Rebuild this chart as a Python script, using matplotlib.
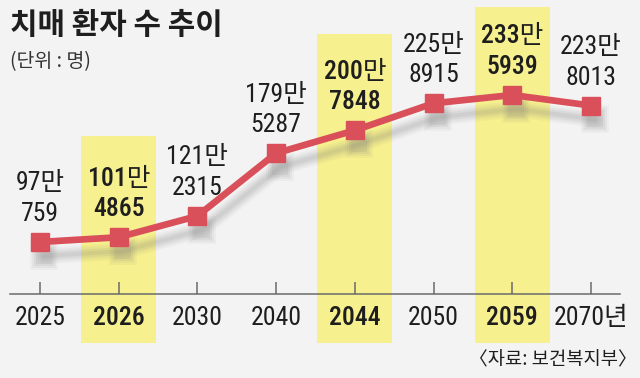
import numpy as np
import matplotlib
matplotlib.use("Agg")
import matplotlib.pyplot as plt
from matplotlib import transforms

# data
years = ["2025", "2026", "2030", "2040", "2044", "2050", "2059", "2070년"]
patients = [970759, 1014865, 1212315, 1795287, 2007848, 2258915, 2335939, 2238013]
labels = ["97만\n759", "101만\n4865", "121만\n2315", "179만\n5287",
          "200만\n7848", "225만\n8915", "233만\n5939", "223만\n8013"]
highlight = [1, 4, 6]
band_tops = {1: 136, 4: 34, 6: 7}   # pixel rows of the yellow band tops

fams = ["Roboto Condensed", "Noto Sans CJK KR", "DejaVu Sans"]
kr = ["Noto Sans CJK KR", "DejaVu Sans"]

W, H = 640, 378
bg = "#f3f3f3"
red = "#d94f5a"
yellow = "#f6f08e"
ink = "#1e1e1e"

fig = plt.figure(figsize=(W / 100, H / 100), dpi=100, facecolor=bg)
ax = fig.add_axes([0, 0, 1, 1])
ax.set_facecolor(bg)
ax.axis("off")
ax.set_xlim(-0.508, 7.623)
ax.set_ylim(-292300, 3218200)

x = np.arange(len(years))

# yellow bands
for i in highlight:
    ax.axvspan(i - 0.475, i + 0.475, ymin=1 - 343 / H, ymax=1 - band_tops[i] / H,
               color=yellow, lw=0, zorder=0)

# baseline axis + ticks
ax.plot([10 / W, 620 / W], [1 - 294 / H] * 2, color="#6a6a6a", lw=1.1,
        transform=ax.transAxes, zorder=2)
ax.vlines(x, 1 - 294 / H, 1 - 282 / H, color="#6a6a6a", lw=1.1,
          transform=ax.get_xaxis_transform(), zorder=2)

# soft shadow under the line (same data, shifted)
shift = transforms.offset_copy(ax.transData, fig=fig, x=3, y=-10, units="points")
for lw, ms, a in [(12, 20, 0.05), (9, 17, 0.07), (6, 14, 0.09), (3, 11, 0.1)]:
    ax.plot(x, patients, color="#7a7a7a", lw=lw, marker="s", ms=ms, mew=0,
            alpha=a, transform=shift, zorder=3, solid_capstyle="round")

ax.plot(x, patients, color=red, lw=4.8, marker="s", ms=13.5, mec=red, mfc=red,
        solid_joinstyle="miter", zorder=4)

# value labels and year labels
for i, (v, lab, yr) in enumerate(zip(patients, labels, years)):
    w = "medium" if i in highlight else "normal"
    ax.annotate(lab, (i, v), xytext=(0, 11.5), textcoords="offset points",
                ha="center", va="bottom", fontsize=18.5, family=fams,
                fontweight=w, color=ink, linespacing=1.35, zorder=5)
    ax.text(i, 1 - 318 / H, yr, transform=ax.get_xaxis_transform(),
            ha="center", va="center", fontsize=18.5, family=fams,
            fontweight=w, color=ink, zorder=5)

# titles and source
fig.text(10 / W, 1 - 25 / H, "치매 환자 수 추이", ha="left", va="center",
         fontsize=21.5, fontweight="bold", family=kr, color=ink)
fig.text(10 / W, 1 - 62 / H, "(단위 : 명)", ha="left", va="center",
         fontsize=14, family=kr, color="#333333")
fig.text(637 / W, 1 - 360 / H, "〈자료: 보건복지부〉", ha="right", va="center",
         fontsize=13.5, family=kr, color=ink)

fig.savefig("out.png", dpi=100, facecolor=bg)
